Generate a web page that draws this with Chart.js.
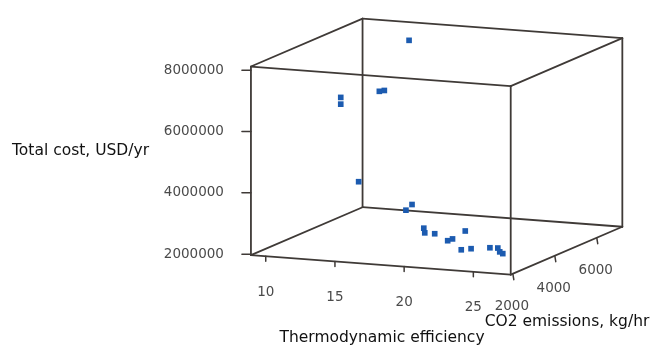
<!DOCTYPE html>
<html>
<head>
<meta charset="utf-8">
<script src="https://cdn.jsdelivr.net/npm/chart.js@4"></script>
<style>
html,body{margin:0;padding:0;background:#fff;}
#c{display:block;}
</style>
</head>
<body>
<canvas id="c" width="653" height="348" style="width:653px;height:348px"></canvas>
<script>
// data (depth is a best guess)
const efficiency=[12.7,9.78,9.78,12.16,12.52,12.68,16.9,17.34,18.6,18.67,19.54,21.99,20.72,21.07,22.11,22.82,24.59,25.16,25.3,25.52];
const co2=[6950,5620,5620,5890,5890,4560,4030,4030,3760,3760,3660,3500,3500,3500,3230,3230,2960,2960,2960,2960];
const cost=[7620000,6050000,5830000,6250000,6290000,3710000,3080000,3280000,2630000,2480000,2510000,2730000,2370000,2440000,2200000,2260000,2430000,2440000,2320000,2270000];

const effTicks=[10,15,20,25];
const co2Ticks=[2000,4000,6000];
const costTicks=[2000000,4000000,6000000,8000000];
const effRange=[8.93,27.7];
const co2Range=[1900,7220];
const costRange=[1970000,8120000];

// view of the box: front-bottom-left corner and the three axis directions
const view={ox:250,oy:257,ex:[263,20],ey:[113,-49],ez:[0,-193]};

function proj(e,c,k){
  const u=(e-effRange[0])/(effRange[1]-effRange[0]);
  const v=(c-co2Range[0])/(co2Range[1]-co2Range[0]);
  const w=(k-costRange[0])/(costRange[1]-costRange[0]);
  return {x:view.ox+u*view.ex[0]+v*view.ey[0]+w*view.ez[0],y:view.oy+u*view.ex[1]+v*view.ey[1]+w*view.ez[1]};
}

const pts=efficiency.map((e,i)=>proj(e,co2[i],cost[i]));

const lineCol='#3f3a37',tickFont='13.5px "DejaVu Sans"',titleFont='15.5px "DejaVu Sans"';

const box3d={
  id:'box3d',
  beforeDatasetsDraw(chart){
    const ctx=chart.ctx,sx=chart.scales.x,sy=chart.scales.y;
    const P=(e,c,k)=>{const p=proj(e,c,k);return [sx.getPixelForValue(p.x),sy.getPixelForValue(p.y)];};
    const E=effRange,C=co2Range,K=costRange;
    const edges=[];
    [K[0],K[1]].forEach(k=>{
      edges.push([[E[0],C[0],k],[E[1],C[0],k]],[[E[0],C[1],k],[E[1],C[1],k]],[[E[0],C[0],k],[E[0],C[1],k]],[[E[1],C[0],k],[E[1],C[1],k]]);
    });
    [E[0],E[1]].forEach(e=>[C[0],C[1]].forEach(c=>edges.push([[e,c,K[0]],[e,c,K[1]]])));
    ctx.save();
    ctx.strokeStyle=lineCol;ctx.lineWidth=1.8;ctx.lineCap='round';
    edges.forEach(([a,b])=>{const p=P(...a),q=P(...b);ctx.beginPath();ctx.moveTo(p[0],p[1]);ctx.lineTo(q[0],q[1]);ctx.stroke();});
    // ticks
    ctx.lineWidth=1.5;
    ctx.font=tickFont;ctx.fillStyle='#4a4a4a';
    costTicks.forEach(k=>{const p=P(E[0],C[0],k);ctx.beginPath();ctx.moveTo(p[0]-9,p[1]);ctx.lineTo(p[0],p[1]);ctx.stroke();
      ctx.textAlign='right';ctx.textBaseline='middle';ctx.fillText(String(k),p[0]-27,p[1]);});
    effTicks.forEach(e=>{const p=P(e,C[0],K[0]);ctx.beginPath();ctx.moveTo(p[0],p[1]);ctx.lineTo(p[0],p[1]+5);ctx.stroke();
      ctx.textAlign='center';ctx.textBaseline='middle';ctx.fillText(String(e),p[0],p[1]+36);});
    co2Ticks.forEach(c=>{const p=P(E[1],c,K[0]);ctx.beginPath();ctx.moveTo(p[0],p[1]);ctx.lineTo(p[0]+1,p[1]+6);ctx.stroke();
      ctx.textAlign='center';ctx.textBaseline='middle';ctx.fillText(String(c),p[0]-1,p[1]+33);});
    // axis titles
    ctx.font=titleFont;ctx.fillStyle='#111';ctx.textBaseline='middle';
    ctx.textAlign='left';ctx.fillText('Total cost, USD/yr',12,151);
    ctx.textAlign='center';ctx.fillText('Thermodynamic efficiency',382,338);
    ctx.fillText('CO2 emissions, kg/hr',567,322);
    ctx.restore();
  }
};

new Chart(document.getElementById('c'),{
  type:'scatter',
  data:{datasets:[{data:pts,pointStyle:'rect',pointRadius:4,pointHoverRadius:4,backgroundColor:'#1c5bb0',borderWidth:0}]},
  options:{
    responsive:false,animation:false,
    layout:{padding:0},
    plugins:{legend:{display:false},tooltip:{enabled:false}},
    scales:{
      x:{type:'linear',min:0,max:653,display:false},
      y:{type:'linear',min:0,max:348,reverse:true,display:false}
    }
  },
  plugins:[box3d]
});
</script>
</body>
</html>
